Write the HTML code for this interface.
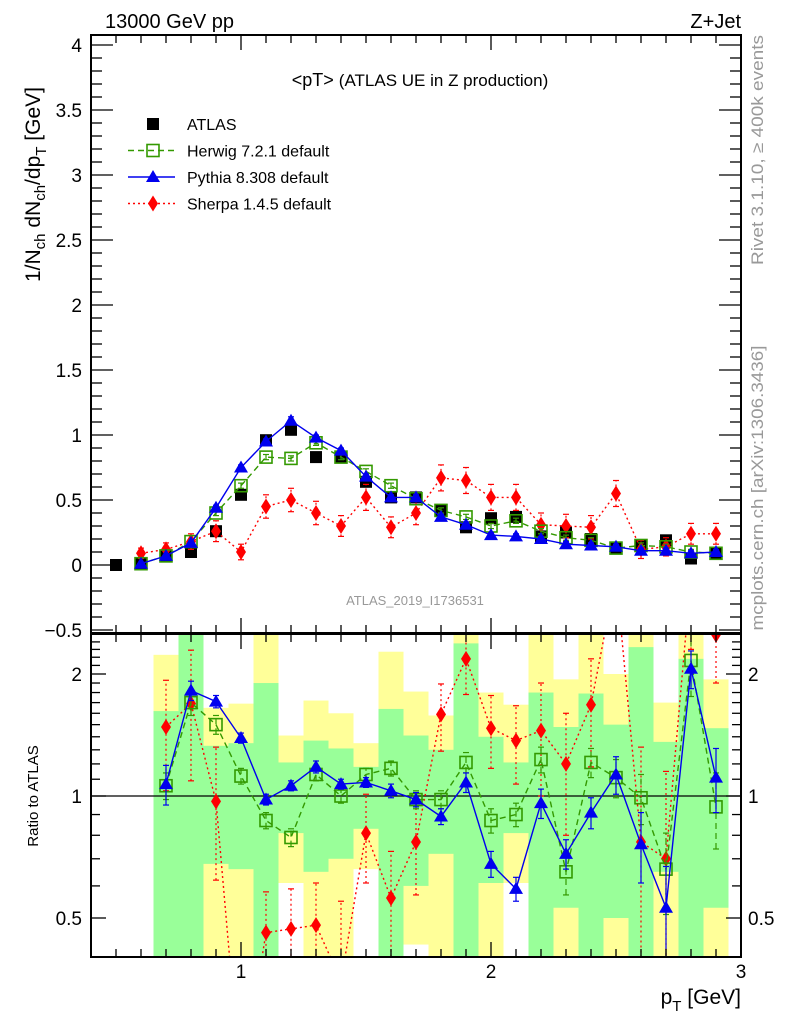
<!DOCTYPE html>
<html><head><meta charset="utf-8"><style>
html,body{margin:0;padding:0;background:#fff;overflow:hidden;width:786px;height:1024px;}
svg{display:block;font-family:"Liberation Sans",sans-serif;}
</style></head><body>
<svg id="chart" width="786" height="1024" viewBox="0 0 786 1024" xmlns="http://www.w3.org/2000/svg">
<defs>
<clipPath id="clipMain"><rect x="91" y="35" width="650" height="598"/></clipPath>
<clipPath id="clipRatio"><rect x="91" y="634" width="650" height="323"/></clipPath>
</defs>
<text x="105" y="28" font-size="20">13000 GeV pp</text>
<text x="741" y="28" font-size="20" text-anchor="end">Z+Jet</text>
<text x="420" y="86" font-size="18" text-anchor="middle">&lt;pT&gt; <tspan font-size="17">(ATLAS UE in Z production)</tspan></text>
<text x="415" y="605" font-size="13" fill="#999" text-anchor="middle">ATLAS_2019_I1736531</text>
<text transform="translate(763,150) rotate(-90)" font-size="16.5" fill="#999" text-anchor="middle" textLength="230" lengthAdjust="spacingAndGlyphs">Rivet 3.1.10, ≥ 400k events</text>
<text transform="translate(763,488) rotate(-90)" font-size="16.5" fill="#999" text-anchor="middle" textLength="285" lengthAdjust="spacingAndGlyphs">mcplots.cern.ch [arXiv:1306.3436]</text>
<text transform="translate(40,282) rotate(-90)" font-size="21">1/N<tspan font-size="15" dy="5">ch</tspan><tspan dy="-5"> dN</tspan><tspan font-size="15" dy="5">ch</tspan><tspan dy="-5">/dp</tspan><tspan font-size="15" dy="6">T</tspan><tspan dy="-6"> [GeV]</tspan></text>
<text transform="translate(38,796) rotate(-90)" font-size="15" text-anchor="middle">Ratio to ATLAS</text>
<text x="741" y="1004" font-size="21" text-anchor="end">p<tspan font-size="15" dy="7">T</tspan><tspan dy="-7"> [GeV]</tspan></text>
<g id="bands" clip-path="url(#clipRatio)"></g>
<g id="mainMarks" clip-path="url(#clipMain)"></g>
<g id="ratioMarks" clip-path="url(#clipRatio)"></g>
<g id="axes"></g>
<g id="legend"></g>
</svg>
<script>
const xCenters=[0.6,0.7,0.8,0.9,1.0,1.1,1.2,1.3,1.4,1.5,1.6,1.7,1.8,1.9,2.0,2.1,2.2,2.3,2.4,2.5,2.6,2.7,2.8,2.9];
const atlasX=[0.5,0.6,0.7,0.8,0.9,1.0,1.1,1.2,1.3,1.4,1.5,1.6,1.7,1.8,1.9,2.0,2.1,2.2,2.3,2.4,2.5,2.6,2.7,2.8,2.9];
const atlasVals=[0,0.01,0.07,0.1,0.26,0.54,0.96,1.04,0.83,0.83,0.64,0.52,0.52,0.42,0.29,0.36,0.37,0.22,0.25,0.2,0.13,0.15,0.19,0.05,0.09];
const herwigVals=[0.01,0.07,0.18,0.4,0.61,0.83,0.82,0.94,0.83,0.72,0.61,0.51,0.42,0.37,0.3,0.34,0.26,0.21,0.19,0.13,0.15,0.14,0.1,0.09];
const pythiaVals=[0.01,0.07,0.17,0.44,0.75,0.95,1.11,0.98,0.88,0.68,0.52,0.52,0.37,0.31,0.23,0.22,0.2,0.16,0.15,0.14,0.11,0.11,0.09,0.1];
const sherpaVals=[0.09,0.12,0.18,0.26,0.1,0.45,0.5,0.4,0.3,0.52,0.29,0.4,0.67,0.65,0.52,0.52,0.31,0.3,0.29,0.55,0.12,0.14,0.24,0.24];
const herwigErr=[0.01,0.01,0.01,0.02,0.02,0.02,0.02,0.02,0.02,0.02,0.02,0.02,0.02,0.02,0.02,0.02,0.02,0.02,0.02,0.02,0.02,0.02,0.02,0.02];
const pythiaErr=[0.01,0.01,0.01,0.02,0.02,0.02,0.03,0.02,0.02,0.02,0.02,0.02,0.02,0.02,0.02,0.02,0.02,0.02,0.02,0.02,0.02,0.02,0.02,0.02];
const sherpaErr=[0.04,0.05,0.06,0.08,0.06,0.09,0.09,0.09,0.08,0.1,0.08,0.09,0.1,0.1,0.1,0.1,0.09,0.09,0.09,0.1,0.07,0.07,0.08,0.08];
const ratioX=[0.7,0.8,0.9,1.0,1.1,1.2,1.3,1.4,1.5,1.6,1.7,1.8,1.9,2.0,2.1,2.2,2.3,2.4,2.5,2.6,2.7,2.8,2.9];
const herwigRatio=[1.06,1.7,1.5,1.12,0.87,0.79,1.13,1.0,1.13,1.17,0.98,0.98,1.21,0.87,0.9,1.23,0.65,1.21,1.11,0.99,0.66,2.16,0.94];
const pythiaRatio=[1.07,1.82,1.71,1.39,0.98,1.06,1.18,1.07,1.08,1.03,0.98,0.89,1.08,0.68,0.59,0.96,0.72,0.91,1.13,0.76,0.53,2.06,1.11];
const sherpaRatio=[1.48,1.69,0.97,0.19,0.46,0.47,0.48,0.35,0.81,0.56,0.77,1.59,2.18,1.47,1.37,1.45,1.2,1.68,3.5,0.77,0.7,3.5,2.5];
const herwigRatioErr=[0.08,0.12,0.08,0.05,0.04,0.04,0.04,0.04,0.04,0.05,0.05,0.05,0.07,0.06,0.06,0.09,0.08,0.1,0.12,0.14,0.15,0.4,0.2];
const pythiaRatioErr=[0.12,0.1,0.06,0.04,0.03,0.03,0.04,0.03,0.03,0.04,0.04,0.04,0.06,0.05,0.04,0.08,0.06,0.08,0.12,0.15,0.14,0.22,0.2];
const sherpaRatioErr=[0.45,0.6,0.35,0.15,0.12,0.12,0.13,0.2,0.2,0.17,0.2,0.3,0.4,0.3,0.3,0.45,0.4,0.5,0.6,0.55,0.45,1.2,0.6];
const bandX=[0.7,0.8,0.9,1.0,1.1,1.2,1.3,1.4,1.5,1.6,1.7,1.8,1.9,2.0,2.1,2.2,2.3,2.4,2.5,2.6,2.7,2.8,2.9];
const yellowTop=[2.23,3,1.65,1.69,3,1.41,1.72,1.6,1.35,2.27,1.81,1.58,3,1.8,1.68,3,1.94,3,2.0,3,1.7,3,1.94];
const greenTop=[1.62,3,1.33,1.35,1.9,1.21,1.37,1.31,1.18,1.64,1.41,1.3,2.38,1.4,1.21,1.8,1.48,1.79,1.5,2.33,1.36,2.18,1.47];
const greenBot=[0.3,0.3,0.68,0.66,0.3,0.81,0.65,0.7,0.83,0.3,0.6,0.72,0.3,0.61,0.81,0.3,0.53,0.3,0.5,0.3,0.65,0.3,0.53];
const yellowBot=[0.3,0.3,0.3,0.3,0.3,0.61,0.3,0.3,0.66,0.3,0.43,0.3,0.3,0.3,0.61,0.3,0.3,0.3,0.3,0.3,0.3,0.3,0.3];
const mainTicks=["−0.5","0","0.5","1","1.5","2","2.5","3","3.5","4"];
const xTicks=["1","2","3"];
const ratioTicks=["0.5","1","2"];

const NS="http://www.w3.org/2000/svg";
const X=p=>241+(p-1)*250;
const Y=v=>565-130*v;
const R=r=>796-122*Math.log2(r);
function mk(tag,parent,attrs){const e=document.createElementNS(NS,tag);for(const k in attrs)e.setAttribute(k,attrs[k]);parent.appendChild(e);return e;}
const gB=document.getElementById('bands'),gM=document.getElementById('mainMarks'),gR=document.getElementById('ratioMarks'),gA=document.getElementById('axes'),gL=document.getElementById('legend');

bandX.forEach((p,i)=>{
  const x0=X(p-0.05),w=X(p+0.05)-x0;
  let e=mk('rect',gB,{x:x0,y:R(yellowTop[i]),width:w,height:R(yellowBot[i])-R(yellowTop[i]),fill:'#ffff99'});
  
  
  e=mk('rect',gB,{x:x0,y:R(greenTop[i]),width:w,height:R(greenBot[i])-R(greenTop[i]),fill:'#99ff99'});
  
  
});
let l1=mk('line',gR,{x1:91,x2:741,y1:R(1),y2:R(1),stroke:'#000','stroke-width':1.3});



function marker(g,type,x,y,color){
  let e;
  if(type==='sq') e=mk('rect',g,{x:x-6,y:y-6,width:12,height:12,fill:'#000'});
  else if(type==='osq') e=mk('rect',g,{x:x-6,y:y-6,width:12,height:12,fill:'none',stroke:color,'stroke-width':1.6});
  else if(type==='tri') e=mk('polygon',g,{points:`${x},${y-7} ${x+7},${y+5} ${x-7},${y+5}`,fill:color});
  else e=mk('polygon',g,{points:`${x},${y-8} ${x+5},${y} ${x},${y+8} ${x-5},${y}`,fill:color});
  return e;
}
function series(g,xs,vals,errs,scale,color,dash,type,name){
  const pts=xs.map((p,i)=>X(p)+','+scale(vals[i])).join(' ');
  let pl=mk('polyline',g,{points:pts,fill:'none',stroke:color,'stroke-width':1.4,'stroke-dasharray':dash});
  
  
  xs.forEach((p,i)=>{
    const x=X(p);
    if(errs){
      const lo=Math.max(vals[i]-errs[i],0.01),hi=vals[i]+errs[i];
      let eb=mk('line',g,{x1:x,x2:x,y1:scale(lo),y2:scale(hi),stroke:color,'stroke-width':1.2,'stroke-dasharray':dash});
      
      
      [lo,hi].forEach(v=>{const c=mk('line',g,{x1:x-3,x2:x+3,y1:scale(v),y2:scale(v),stroke:color,'stroke-width':1.2});
        
        });
    }
    const m=marker(g,type,x,scale(vals[i]),color);
    
    
  });
}
atlasX.forEach((p,i)=>{const m=marker(gM,'sq',X(p),Y(atlasVals[i]),'#000');
  
  });
series(gM,xCenters,sherpaVals,sherpaErr,Y,'#ff0000','2,3','dia','sherpa');
series(gM,xCenters,herwigVals,herwigErr,Y,'#339900','6,4','osq','herwig');
series(gM,xCenters,pythiaVals,pythiaErr,Y,'#0000ee','','tri','pythia');
series(gR,ratioX,sherpaRatio,sherpaRatioErr,R,'#ff0000','2,3','dia','sherpa-ratio');
series(gR,ratioX,herwigRatio,herwigRatioErr,R,'#339900','6,4','osq','herwig-ratio');
series(gR,ratioX,pythiaRatio,pythiaRatioErr,R,'#0000ee','','tri','pythia-ratio');

[[35,633,'main-frame'],[634,957,'ratio-frame']].forEach(([t,b,n])=>{
  const f=mk('rect',gA,{x:91,y:t,width:650,height:b-t,fill:'none',stroke:'#000','stroke-width':2});
  
  
});
function tick(x1,y1,x2,y2){const t=mk('line',gA,{x1,y1,x2,y2,stroke:'#000','stroke-width':1.3});
  
  }
for(let k=-5;k<=40;k++){const v=k/10,y=Y(v);if(y<36||y>632)continue;const L=(k%5===0)?22:11;tick(91,y,91+L,y);tick(741,y,741-L,y);}
mainTicks.forEach(s=>{const v=parseFloat(s.replace('−','-'));const t=mk('text',gA,{x:82,y:Y(v)+7,'font-size':19,'text-anchor':'end'});t.textContent=s;
  
  });
for(let k=5;k<=30;k++){const p=k/10,x=X(p);if(x<92||x>740)continue;const L=(k%10===0)?15:8;
  tick(x,35,x,35+L);tick(x,633,x,633-L);tick(x,634,x,634+L);tick(x,957,x,957-L);}
xTicks.forEach(s=>{const t=mk('text',gA,{x:X(+s),y:978,'font-size':19,'text-anchor':'middle'});t.textContent=s;
  
  });
[0.4,0.5,0.6,0.7,0.8,0.9,1,1.1,1.2,1.3,1.4,1.5,1.6,1.7,1.8,1.9,2,2.1,2.2,2.3,2.4,2.5].forEach(r=>{const y=R(r);if(y<635||y>956)return;
  const L=(r===0.5||r===1||r===2)?15:9;tick(91,y,91+L,y);tick(741,y,741-L,y);});
ratioTicks.forEach(s=>{const y=R(+s)+7;
  let t=mk('text',gA,{x:82,y,'font-size':19,'text-anchor':'end'});t.textContent=s;
  
  
  t=mk('text',gA,{x:748,y,'font-size':19});t.textContent=s;
  
  });

const legNames=['ATLAS','Herwig 7.2.1 default','Pythia 8.308 default','Sherpa 1.4.5 default'];
const legStyle=[['#000','','sq'],['#339900','6,4','osq'],['#0000ee','','tri'],['#ff0000','2,3','dia']];
legNames.forEach((n,i)=>{
  const y=124+i*26.5,[c,d,t]=legStyle[i];
  if(i>0){const l=mk('line',gL,{x1:128,x2:175,y1:y,y2:y,stroke:c,'stroke-width':1.4,'stroke-dasharray':d});
    
    }
  const m=marker(gL,t,153,y,c);
  
  
  const tx=mk('text',gL,{x:187,y:y+6,'font-size':16});tx.textContent=n;
  
  
});
</script>
</body></html>
